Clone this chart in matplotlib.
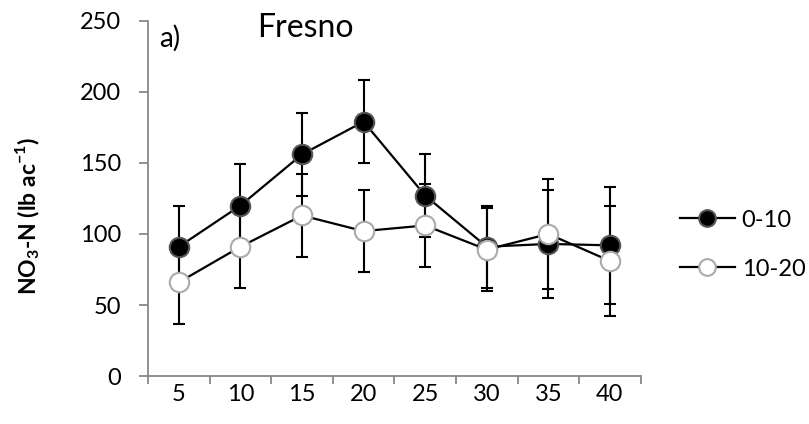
import numpy as np
import matplotlib.pyplot as plt

plt.rcParams['font.family'] = ['Lato', 'DejaVu Sans']
plt.rcParams['mathtext.fontset'] = 'custom'
plt.rcParams['mathtext.rm'] = 'Lato:bold'
plt.rcParams['mathtext.bf'] = 'Lato:bold'

depths = ['5', '10', '15', '20', '25', '30', '35', '40']
shallow = [91, 120, 156, 179, 127, 91, 93, 92]       # 0-10
shallow_err = [29, 29, 29, 29, 29, 29, 38, 41]
deep = [66, 91, 113, 102, 106, 89, 100, 81]          # 10-20
deep_err = [29, 29, 29, 29, 29, 29, 39, 39]

fig = plt.figure(figsize=(8.09, 4.24), dpi=100)
ax = fig.add_axes([0.183, 0.113, 0.609, 0.838])

x = np.arange(len(depths))
ax.errorbar(x, shallow, yerr=shallow_err, fmt='none', ecolor='black', capsize=4.5,
            capthick=1.5, elinewidth=1.5, zorder=2)
ax.errorbar(x, deep, yerr=deep_err, fmt='none', ecolor='black', capsize=4.5,
            capthick=1.5, elinewidth=1.5, zorder=2)
ax.plot(x, shallow, color='black', lw=1.6, marker='o', ms=14, mfc='black',
        mec='#555555', mew=1.5, label='0-10', zorder=3)
ax.plot(x, deep, color='black', lw=1.6, marker='o', ms=14, mfc='white',
        mec='#aaaaaa', mew=1.5, label='10-20', zorder=4)

ax.set_xlim(-0.5, len(depths) - 0.5)
ax.set_ylim(0, 250)
ax.set_yticks(np.arange(0, 251, 50))
ax.set_xticks(x)
ax.set_xticklabels(depths)
ax.set_xticks(np.arange(-0.5, len(depths)), minor=True)
ax.tick_params(axis='x', which='major', length=0, pad=6, labelsize=17)
ax.tick_params(axis='x', which='minor', length=6, color='#888888', width=1.3)
ax.tick_params(axis='y', length=6.5, color='#888888', width=1.3, labelsize=17, pad=13)

for s in ['top', 'right']:
    ax.spines[s].set_visible(False)
for s in ['left', 'bottom']:
    ax.spines[s].set_color('#888888')
    ax.spines[s].set_linewidth(1.3)

ax.set_ylabel('NO$_\\mathbf{3}$-N (lb ac$^\\mathbf{-1}$)', fontsize=16.5, fontweight='bold')
ax.yaxis.set_label_coords(-0.215, 0.45)

fig.text(0.377, 0.935, 'Fresno', fontsize=23, ha='center', va='center')
fig.text(0.210, 0.91, 'a)', fontsize=20, ha='center', va='center')

leg = ax.legend(loc='center left', bbox_to_anchor=(1.037, 0.37), frameon=False,
                fontsize=17, handlelength=2.3, labelspacing=1.18, handletextpad=0.3)
for h in leg.legend_handles:
    h.set_markersize(12)

fig.savefig('out.png', dpi=100)
